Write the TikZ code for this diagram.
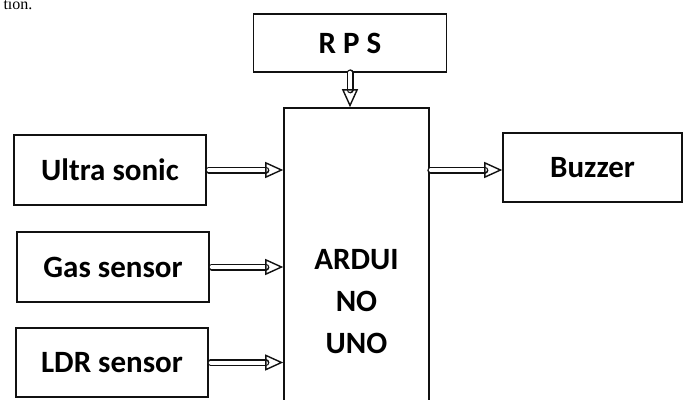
\documentclass[tikz,border=0pt]{standalone}
\usepackage{fontspec}
\setmainfont{Carlito}
\newfontfamily\pageserif{Liberation Serif}
\usepackage{tikz}
\usetikzlibrary{arrows.meta}
\definecolor{drawblack}{HTML}{111111}
\tikzset{
	blockbox/.style={
		draw=drawblack,
		line width=1.6pt,
		align=center,
		inner sep=0pt,
		font=\bfseries\fontsize{31}{42}\selectfont
	},
	pipe/.style={
		draw=white,
		line width=1.4pt,
		line cap=butt,
		-{Triangle[open, color=drawblack, length=18pt, width=16pt]},
		preaction={draw=drawblack, line width=7pt, -, shorten >=17.3pt},
		preaction={draw=white, line width=4pt, -, shorten >=17.3pt}
	}
}
\begin{document}
\begin{tikzpicture}[x=1pt, y=-1pt, line cap=round]
				\useasboundingbox (0,0) rectangle (684,399);
				\clip (0,0) rectangle (684,399);
				\node[anchor=base west, font=\pageserif\fontsize{16}{20}\selectfont] (pagetext) at (0,9) {tion.};
				\node[blockbox, minimum width=193pt, minimum height=58pt] (rps) at (350,43) {R P S};
				\node[blockbox, minimum width=145pt, minimum height=388pt] (arduino) at (356.5,302) {ARDUI\\NO\\UNO};
				\node[blockbox, minimum width=192pt, minimum height=70pt] (ultra) at (110,170) {Ultra sonic};
				\node[blockbox, minimum width=192pt, minimum height=70pt] (gas) at (113,267) {Gas sensor};
				\node[blockbox, minimum width=192pt, minimum height=69pt] (ldr) at (112,362.5) {LDR sensor};
				\node[blockbox, minimum width=179pt, minimum height=69pt] (buzzer) at (592.5,167.5) {Buzzer};
				\draw[pipe] (rps.south) -- (rps.south |- arduino.north);
				\draw[pipe, shorten <=2pt] (ultra.east) -- (ultra.east -| arduino.west);
				\draw[pipe, shorten <=2pt] (gas.east) -- (gas.east -| arduino.west);
				\draw[pipe, shorten <=2pt] (ldr.east) -- (ldr.east -| arduino.west);
				\draw[pipe, shorten <=1pt]
					([yshift=-2.5pt]buzzer.west -| arduino.east)
					-- ([yshift=-2.5pt]buzzer.west);
			\end{tikzpicture}
\end{document}
